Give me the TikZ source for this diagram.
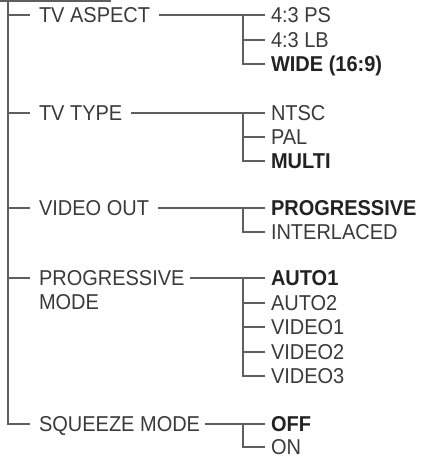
\documentclass[tikz,border=0pt]{standalone}
\usepackage{fontspec}
\setmainfont{Liberation Sans}[FakeStretch=0.93]
\usepackage{tikz}
\usetikzlibrary{positioning, calc}
\definecolor{Menu_Line}{HTML}{5E5E5E}
\definecolor{Menu_Text}{HTML}{3A3A3A}
\definecolor{Menu_Bold}{HTML}{222222}

\begin{document}
\begin{tikzpicture}[
  x=1pt, y=-1pt,
  every node/.style={font=\fontsize{21.5}{24}\selectfont, text=Menu_Text},
  lvl/.style={anchor=west, inner sep=0pt, outer xsep=9pt, text height=15.4pt, text depth=0pt},
  item/.style={anchor=west, inner sep=0pt, outer xsep=6pt, text height=15.4pt, text depth=0pt},
  sel/.style={item, font=\fontsize{21.5}{24}\selectfont\bfseries, text=Menu_Bold},
  conn/.style={draw=Menu_Line, line width=1.2pt},
]
  \useasboundingbox (0,0) rectangle (426,457);

  % Trunk
  \coordinate (topl) at (0,1);
  \coordinate (topr) at (111,1);
  \coordinate (trunk) at (8,0);
  \coordinate (bx) at (243,0);

  % Settings
  \node[lvl] (tva) at (30,15) {TV ASPECT};
  \node[lvl] (tvt) at (30,113) {TV TYPE};
  \node[lvl] (vout) at (30,208) {VIDEO OUT};
  \node[lvl] (pm) at (30,278) {PROGRESSIVE};
  \node[lvl] (pmb) at (30,302) {MODE};
  \node[lvl] (sqz) at (30,424) {SQUEEZE MODE};

  % TV aspect options
  \node[item] (ps) at (265,15) {4:3 PS};
  \node[item] (lb) at (265,40) {4:3 LB};
  \node[sel] (wide) at (265,64) {WIDE (16:9)};

  % TV type options
  \node[item] (ntsc) at (265,113) {NTSC};
  \node[item] (pal) at (265,137) {PAL};
  \node[sel] (multi) at (265,161) {MULTI};

  % Video out options
  \node[sel] (prog) at (265,208) {PROGRESSIVE};
  \node[item] (inter) at (265,232) {INTERLACED};

  % Progressive mode options
  \node[sel] (auto1) at (265,278) {AUTO1};
  \node[item] (auto2) at (265,303) {AUTO2};
  \node[item] (vid1) at (265,327) {VIDEO1};
  \node[item] (vid2) at (265,352) {VIDEO2};
  \node[item] (vid3) at (265,376) {VIDEO3};

  % Squeeze mode options
  \node[sel] (off) at (265,424) {OFF};
  \node[item] (on) at (265,447) {ON};

  % Trunk lines
  \draw[conn] (topl) -- (topr);
  \draw[conn] (trunk) |- (sqz.west);
  \draw[conn] (tva.west -| trunk) -- (tva.west);
  \draw[conn] (tvt.west -| trunk) -- (tvt.west);
  \draw[conn] (vout.west -| trunk) -- (vout.west);
  \draw[conn] (pm.west -| trunk) -- (pm.west);

  % Branches
  \draw[conn] (tva.east) -- (ps.west);
  \draw[conn] (ps.west -| bx) |- (wide.west);
  \draw[conn] (lb.west -| bx) -- (lb.west);

  \draw[conn] (tvt.east) -- (ntsc.west);
  \draw[conn] (ntsc.west -| bx) |- (multi.west);
  \draw[conn] (pal.west -| bx) -- (pal.west);

  \draw[conn] (vout.east) -- (prog.west);
  \draw[conn] (prog.west -| bx) |- (inter.west);

  \draw[conn] ([xshift=-4pt]pm.east) -- (auto1.west);
  \draw[conn] (auto1.west -| bx) |- (vid3.west);
  \draw[conn] (auto2.west -| bx) -- (auto2.west);
  \draw[conn] (vid1.west -| bx) -- (vid1.west);
  \draw[conn] (vid2.west -| bx) -- (vid2.west);

  \draw[conn] ([xshift=-4pt]sqz.east) -- (off.west);
  \draw[conn] (off.west -| bx) |- (on.west);
\end{tikzpicture}
\end{document}
